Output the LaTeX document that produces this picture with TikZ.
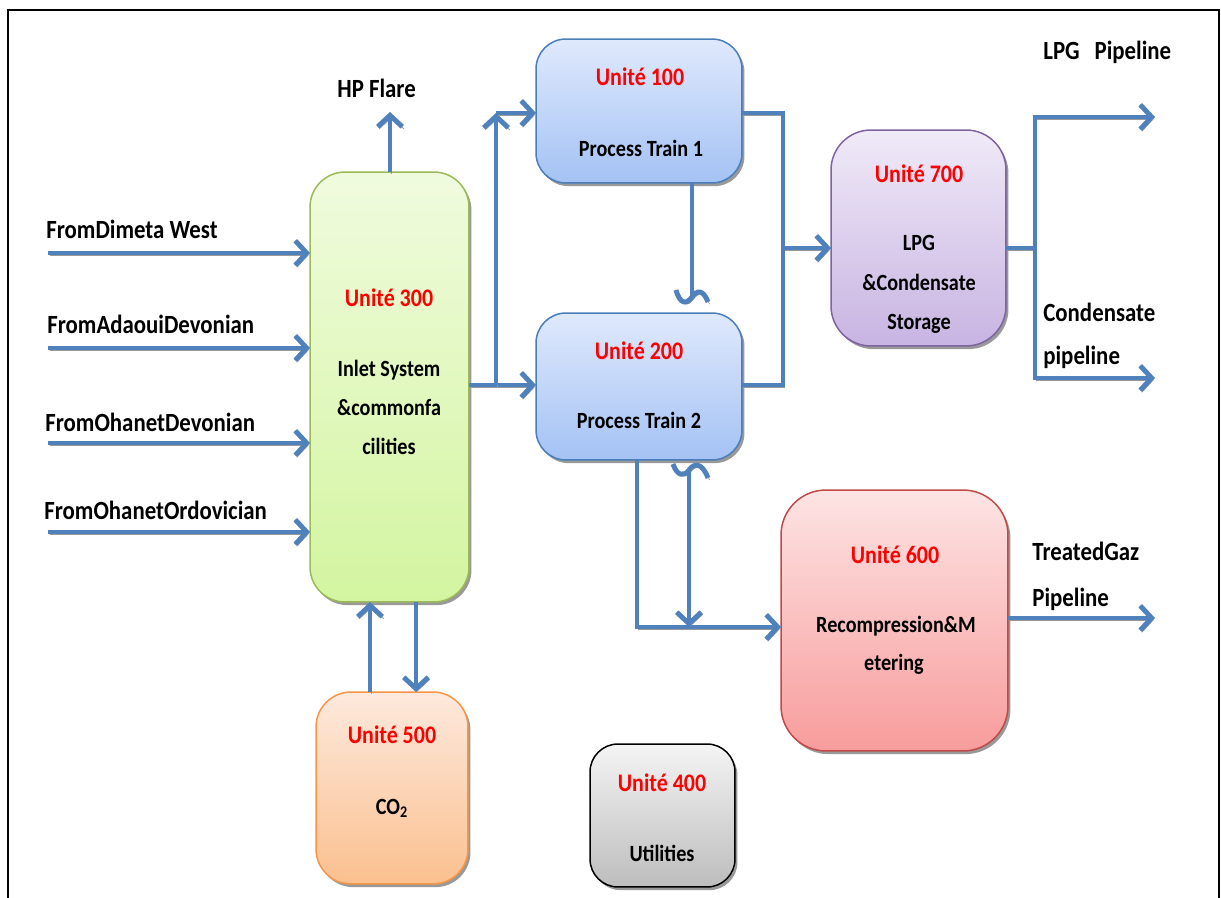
\documentclass[tikz,border=0pt]{standalone}
\usepackage{fontspec}
\setmainfont{Carlito}
\usetikzlibrary{arrows.meta,shadows,calc}
\definecolor{flowblue}{HTML}{4F81BD}
\definecolor{unitred}{HTML}{FF0000}
\definecolor{gtop}{HTML}{F0FBDE}
\definecolor{gbot}{HTML}{D3F5A0}
\definecolor{gbrd}{HTML}{9BBB59}
\definecolor{btop}{HTML}{DFE9FC}
\definecolor{bbot}{HTML}{A4C2F4}
\definecolor{bbrd}{HTML}{4A7EBB}
\definecolor{ptop}{HTML}{F0EAF8}
\definecolor{pbot}{HTML}{C8B4E2}
\definecolor{pbrd}{HTML}{7F63A1}
\definecolor{rtop}{HTML}{FDE4E4}
\definecolor{rbot}{HTML}{F89C9C}
\definecolor{rbrd}{HTML}{BE4B48}
\definecolor{otop}{HTML}{FDE9DD}
\definecolor{obot}{HTML}{FBC08F}
\definecolor{obrd}{HTML}{F79646}
\definecolor{ktop}{HTML}{F4F4F4}
\definecolor{kbot}{HTML}{BDBDBD}
\begin{document}
\begin{tikzpicture}[x=0.02cm,y=-0.02cm,
  box/.style={line width=0.85pt, inner sep=0pt, outer sep=0pt,
    drop shadow={shadow xshift=1.4pt, shadow yshift=-1.8pt, opacity=0.4, fill=black}},
  flow/.style={draw=flowblue, line width=2.8pt,
    preaction={draw=black!40, transform canvas={shift={(0.9pt,-1.2pt)}}}},
  tip/.style={-{Straight Barb[length=6.5pt,width=14pt]}},
  unitlbl/.style={text=unitred, font=\fontsize{12.5}{15}\selectfont\bfseries, anchor=base, inner sep=0pt,
    yscale=1.15, transform shape},
  lbl/.style={font=\fontsize{11.5}{14}\selectfont\bfseries, anchor=base, inner sep=0pt,
    yscale=1.15, transform shape},
  lbll/.style={lbl, font=\fontsize{13}{15}\selectfont\bfseries, anchor=base west}]
\useasboundingbox (0,0) rectangle (1221,898);
\fill[white] (0,0) rectangle (1221,898);
\draw[line width=1.1pt] (8,898) -- (8,10) -- (1219,10) -- (1219,898);

% boxes
\node[box, rounded corners=0.7cm, minimum width=3.18cm, minimum height=8.6cm,
  top color=gtop, bottom color=gbot, draw=gbrd] (u300) at (389.5,387) {};
\node[box, rounded corners=0.6cm, minimum width=4.12cm, minimum height=2.88cm,
  top color=btop, bottom color=bbot, draw=bbrd] (u100) at (639,111) {};
\node[box, rounded corners=0.6cm, minimum width=4.12cm, minimum height=2.94cm,
  top color=btop, bottom color=bbot, draw=bbrd] (u200) at (639,386.5) {};
\node[box, rounded corners=0.8cm, minimum width=3.5cm, minimum height=4.32cm,
  top color=ptop, bottom color=pbot, draw=pbrd] (u700) at (918.5,238) {};
\node[box, rounded corners=0.9cm, minimum width=4.54cm, minimum height=5.22cm,
  top color=rtop, bottom color=rbot, draw=rbrd] (u600) at (894.5,620.5) {};
\node[box, rounded corners=0.7cm, minimum width=3.04cm, minimum height=3.84cm,
  top color=otop, bottom color=obot, draw=obrd] (u500) at (392,788) {};
\node[box, rounded corners=0.56cm, minimum width=2.9cm, minimum height=2.86cm,
  top color=ktop, bottom color=kbot, draw=black] (u400) at (662.5,815.5) {};

% box texts
\node[unitlbl] (t300a) at (389,307) {Unité 300};
\node[lbl] (t300b) at (389,377) {Inlet System};
\node[lbl] (t300c) at (389,416) {\&commonfa};
\node[lbl] (t300d) at (389,455) {cilities};
\node[unitlbl] (t100a) at (640,86) {Unité 100};
\node[lbl] (t100b) at (641,157) {Process Train 1};
\node[unitlbl] (t200a) at (639,360) {Unité 200};
\node[lbl] (t200b) at (639,429) {Process Train 2};
\node[unitlbl] (t700a) at (919,183) {Unité 700};
\node[lbl] (t700b) at (919,251) {LPG};
\node[lbl] (t700c) at (919,291) {\&Condensate};
\node[lbl] (t700d) at (919,330) {Storage};
\node[unitlbl] (t600a) at (895,563) {Unité 600};
\node[lbl] (t600b) at (896,632) {Recompression\&M};
\node[lbl] (t600c) at (894,670) {etering};
\node[unitlbl] (t500a) at (392,743) {Unité 500};
\node[lbl] (t500b) at (392,814) {CO\textsubscript{2}};
\node[unitlbl] (t400a) at (662,791) {Unité 400};
\node[lbl] (t400b) at (662,861) {Utilities};

% outside labels
\node[lbll] (lin1) at (46,239) {FromDimeta West};
\node[lbll] (lin2) at (47,334) {FromAdaouiDevonian};
\node[lbll] (lin3) at (45,432) {FromOhanetDevonian};
\node[lbll] (lin4) at (44,520) {FromOhanetOrdovician};
\node[lbll] (lflare) at (337,98) {HP Flare};
\node[lbll] (llpg) at (1043,60) {LPG\hspace{0.3cm}Pipeline};
\node[lbll] (lcond1) at (1043,322) {Condensate};
\node[lbll] (lcond2) at (1043,365) {pipeline};
\node[lbll] (ltg1) at (1032,561) {TreatedGaz};
\node[lbll] (ltg2) at (1032,606) {Pipeline};

% coordinates
\coordinate (in1) at (48,253);
\coordinate (in2) at (48,348);
\coordinate (in3) at (48,443);
\coordinate (in4) at (48,532);
\coordinate (flare) at (390,112);
\coordinate (j1) at (496,385);
\coordinate (j2) at (496,113);
\coordinate (j3) at (783,113);
\coordinate (j4) at (783,385);
\coordinate (j5) at (783,248);
\coordinate (j6) at (1035,248);
\coordinate (k1) at (1035,117);
\coordinate (k2) at (1035,378);
\coordinate (out1) at (1155,117);
\coordinate (out2) at (1155,378);
\coordinate (out3) at (1155,618);
\coordinate (h1) at (692,297);
\coordinate (h2) at (689,470);
\coordinate (c1) at (637,627);
\coordinate (p1) at (370,0);
\coordinate (p2) at (416,0);

% connectors
\foreach \i in {in1,in2,in3,in4}
  \draw[flow,tip] (\i) -- (\i -| u300.west);
\draw[flow,tip] (u300.north -| flare) -- (flare);
\draw[flow,tip] (j1 -| u300.east) -- (j1 -| u200.west);
\draw[flow,tip] (j1) -- (j2);
\draw[flow,tip] (j2) -- (j2 -| u100.west);
\draw[flow] (j3 -| u100.east) -- (j3) -- (j4) -- (j4 -| u200.east);
\draw[flow,tip] (j5) -- (j5 -| u700.west);
\draw[flow] (j6 -| u700.east) -- (j6);
\draw[flow,tip] (j6) -- (k1) -- (out1);
\draw[flow,tip] (j6) -- (k2) -- (out2);
\draw[flow,tip] (out3 -| u600.east) -- (out3);
\draw[flow] (h1 |- u100.south) -- (h1);
\draw[flow] ($(h1)+(-16,-7)$) .. controls ($(h1)+(-12,7)$) and ($(h1)+(-6,8)$) .. (h1)
  .. controls ($(h1)+(5,-7)$) and ($(h1)+(11,-8)$) .. ($(h1)+(16,5)$);
\draw[flow,tip] (c1 |- u200.south) -- (c1) -- (c1 -| u600.west);
\draw[flow] ($(h2)+(-16,-6)$) .. controls ($(h2)+(-12,6)$) and ($(h2)+(-5,7)$) .. (h2)
  .. controls ($(h2)+(5,-7)$) and ($(h2)+(13,-8)$) .. ($(h2)+(19,8)$);
\draw[flow,tip] (h2) -- (h2 |- c1);
\draw[flow,tip] (u500.north -| p1) -- (u300.south -| p1);
\draw[flow,tip] (u300.south -| p2) -- (u500.north -| p2);
\end{tikzpicture}
\end{document}
